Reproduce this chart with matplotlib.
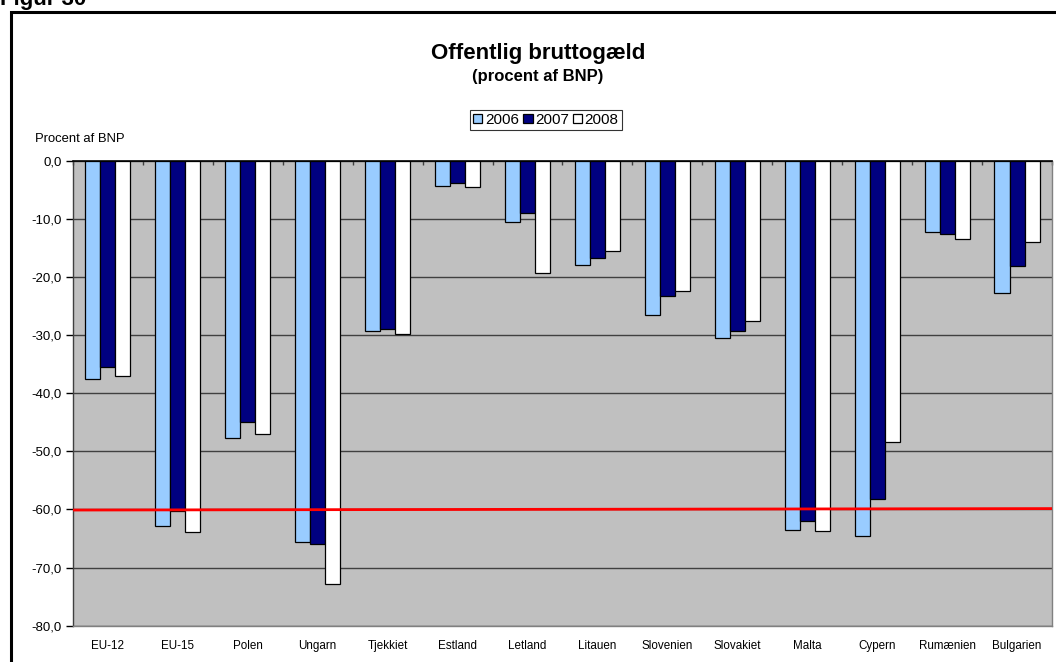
import numpy as np
import matplotlib
matplotlib.use("Agg")
from matplotlib import pyplot as plt
from matplotlib.patches import Rectangle
from matplotlib.ticker import FuncFormatter

plt.rcParams['font.family'] = ['Liberation Sans', 'DejaVu Sans']

countries = ["EU-12", "EU-15", "Polen", "Ungarn", "Tjekkiet", "Estland", "Letland",
             "Litauen", "Slovenien", "Slovakiet", "Malta", "Cypern", "Rumænien", "Bulgarien"]
years = ["2006", "2007", "2008"]
debt_2006 = [-37.6, -62.8, -47.7, -65.6, -29.3, -4.4, -10.6, -18.0, -26.6, -30.5, -63.6, -64.5, -12.3, -22.7]
debt_2007 = [-35.5, -60.3, -45.0, -65.9, -29.0, -3.8, -9.0, -16.8, -23.3, -29.3, -62.0, -58.2, -12.6, -18.2]
debt_2008 = [-37.0, -63.9, -47.1, -72.9, -29.9, -4.6, -19.4, -15.5, -22.5, -27.6, -63.7, -48.4, -13.5, -14.0]
limit_line = [-60.1, -59.85]  # red 60% line, drawn slightly tilted as in the original

colors = ["#99CCFF", "#000080", "#FFFFFF"]

fig = plt.figure(figsize=(10.56, 6.62), dpi=100)
ax = fig.add_axes([0.0691, 0.0548, 0.9271, 0.7025])

# outer frame (only top and left edges are visible in the crop)
fig.patches.append(Rectangle((11 / 1056, -0.1), 1.2, 1 - 12 / 662 + 0.1, transform=fig.transFigure,
                             fill=False, edgecolor="black", linewidth=2.2, zorder=0))
fig.text(0.0, 1 - 5 / 662, "Figur 30", fontsize=16, fontweight="bold", va="baseline", ha="left")

x = np.arange(len(countries))
w = 0.215
for i, (vals, col) in enumerate(zip([debt_2006, debt_2007, debt_2008], colors)):
    ax.bar(x + (i - 1) * w, vals, width=w, color=col, edgecolor="black", linewidth=0.9,
           label=years[i], zorder=3)

ax.set_facecolor("#C0C0C0")
ax.set_xlim(-0.5, len(countries) - 0.5)
ax.set_ylim(-80, 0)
ax.set_yticks(np.arange(-80, 1, 10))
ax.yaxis.set_major_formatter(FuncFormatter(lambda v, p: f"{v:.1f}".replace(".", ",")))
ax.grid(axis="y", color="#404040", linewidth=1.0, zorder=1)

ax.plot(ax.get_xlim(), limit_line, color="#FF0000", linewidth=2.0, zorder=4)

ax.set_xticks(x)
ax.set_xticklabels(countries, fontsize=8.4)
ax.tick_params(axis="x", length=0, pad=10)
ax.tick_params(axis="y", labelsize=9.5, length=5, direction="out", color="black", width=1, pad=3)
# category separators on the zero line
ax.set_xticks(np.arange(-0.5, len(countries)), minor=True)
ax.tick_params(axis="x", which="minor", top=True, bottom=False, direction="in", length=3, width=1, color="#404040")

for s in ["left", "bottom", "right"]:
    ax.spines[s].set_color("#808080")
    ax.spines[s].set_linewidth(1.0)
ax.spines["left"].set_color("#404040")
ax.spines["top"].set_color("black")
ax.spines["top"].set_linewidth(1.2)
ax.spines["top"].set_zorder(5)

fig.text(538 / 1056, 1 - 54 / 662, "Offentlig bruttogæld", fontsize=16, fontweight="bold", ha="center", va="center")
fig.text(538 / 1056, 1 - 77 / 662, "(procent af BNP)", fontsize=12, fontweight="bold", ha="center", va="center")
fig.text(35 / 1056, 1 - 139 / 662, "Procent af BNP", fontsize=9.4, ha="left", va="center")

leg = ax.legend(loc="center", bbox_to_anchor=(546 / 1056, 1 - 120 / 662), bbox_transform=fig.transFigure,
                ncol=3, fontsize=11, frameon=True, fancybox=False, edgecolor="black",
                handlelength=0.6, handleheight=0.6, handletextpad=0.15, columnspacing=0.3,
                borderpad=0.2, borderaxespad=0)
leg.get_frame().set_linewidth(0.8)

fig.savefig("out.png", dpi=100)
